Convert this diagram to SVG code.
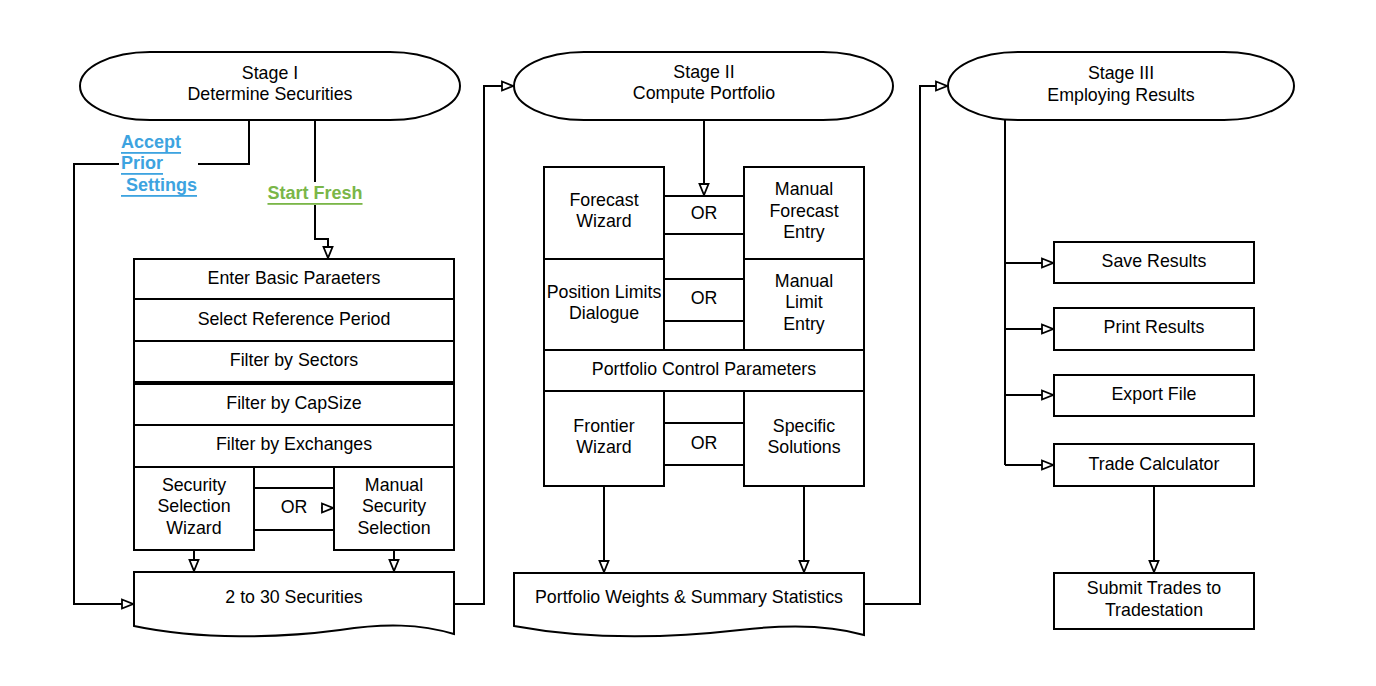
<svg xmlns="http://www.w3.org/2000/svg" width="1376" height="686" viewBox="0 0 1376 686">
<defs>
<marker id="arr" markerWidth="14" markerHeight="12" refX="12" refY="6" orient="auto" markerUnits="userSpaceOnUse">
<path d="M1,1.5 L12,6 L1,10.5 Z" fill="#fff" stroke="#000" stroke-width="1.8"/>
</marker>
</defs>
<style>
.b{fill:#fff;stroke:#000;stroke-width:2}
.l{fill:none;stroke:#000;stroke-width:2}
text{font-family:"Liberation Sans",Arial,sans-serif;font-size:17.8px;fill:#000;text-anchor:middle;dominant-baseline:central}
.blue{fill:#3DA3E0;font-weight:bold;text-decoration:underline;text-anchor:start;font-size:18px}
.green{fill:#7AB648;font-weight:bold;text-decoration:underline;font-size:18px}
</style>
<rect width="1376" height="686" fill="#fff"/>

<g id="connectors">
<path class="l" d="M249,120 V164 H74 V604 H133" marker-end="url(#arr)"/>
<path class="l" d="M315,120 V239 H328 V258" marker-end="url(#arr)"/>
<path class="l" d="M321,508 H333" marker-end="url(#arr)"/>
<path class="l" d="M194,550 V571" marker-end="url(#arr)"/>
<path class="l" d="M394,550 V571" marker-end="url(#arr)"/>
<path class="l" d="M454,604 H484 V86 H513" marker-end="url(#arr)"/>
<path class="l" d="M704,120 V195" marker-end="url(#arr)"/>
<path class="l" d="M604,486 V572" marker-end="url(#arr)"/>
<path class="l" d="M804,486 V572" marker-end="url(#arr)"/>
<path class="l" d="M864,604 H920 V86 H947" marker-end="url(#arr)"/>
<path class="l" d="M1005,120 V465"/>
<path class="l" d="M1005,263 H1053" marker-end="url(#arr)"/>
<path class="l" d="M1005,329 H1053" marker-end="url(#arr)"/>
<path class="l" d="M1005,395 H1053" marker-end="url(#arr)"/>
<path class="l" d="M1005,465 H1053" marker-end="url(#arr)"/>
<path class="l" d="M1154,486 V572" marker-end="url(#arr)"/>
<g id="label-accept">
<rect x="119" y="131" width="79" height="64" fill="#fff"/>
<text class="blue" x="121" y="142">Accept</text>
<text class="blue" x="121" y="163">Prior</text>
<text class="blue" x="121" y="185" xml:space="preserve"> Settings</text>
</g>
<g id="label-fresh">
<rect x="266" y="182" width="99" height="23" fill="#fff"/>
<text class="green" x="315" y="193">Start Fresh</text>
</g>
</g>

<g id="stage1">
<rect class="b" x="80" y="52" width="380" height="68" rx="70" ry="34"/>
<text x="270" y="73">Stage I</text>
<text x="270" y="94">Determine Securities</text>
</g>
<g id="stage2">
<rect class="b" x="514" y="52" width="379" height="68" rx="70" ry="34"/>
<text x="704" y="72">Stage II</text>
<text x="704" y="93">Compute Portfolio</text>
</g>
<g id="stage3">
<rect class="b" x="948" y="52" width="346" height="68" rx="70" ry="34"/>
<text x="1121" y="73">Stage III</text>
<text x="1121" y="95">Employing Results</text>
</g>

<g id="enter-basic"><rect class="b" x="134" y="259" width="320" height="40"/><text x="294" y="278">Enter Basic Paraeters</text></g>
<g id="select-ref"><rect class="b" x="134" y="299" width="320" height="42"/><text x="294" y="319">Select Reference Period</text></g>
<g id="filter-sectors"><rect class="b" x="134" y="341" width="320" height="41"/><text x="294" y="360">Filter by Sectors</text></g>
<g id="filter-cap"><rect class="b" x="134" y="384" width="320" height="41"/><text x="294" y="403">Filter by CapSize</text></g>
<g id="filter-exch"><rect class="b" x="134" y="425" width="320" height="42"/><text x="294" y="444">Filter by Exchanges</text></g>
<g id="sec-wizard"><rect class="b" x="134" y="467" width="120" height="83"/><text x="194" y="485">Security</text><text x="194" y="506">Selection</text><text x="194" y="528">Wizard</text></g>
<g id="or1"><path class="l" d="M254,488 H334 M254,530 H334"/><text x="294" y="507">OR</text></g>
<g id="manual-sec"><rect class="b" x="334" y="467" width="120" height="83"/><text x="394" y="485">Manual</text><text x="394" y="506">Security</text><text x="394" y="528">Selection</text></g>
<g id="two-to-thirty"><path class="b" d="M134,572 H454 V634 C420,624 385,623 340,630 C280,638 200,640 134,626 Z"/><text x="294" y="597">2 to 30 Securities</text></g>

<g id="forecast-wizard"><rect class="b" x="544" y="167" width="120" height="92"/><text x="604" y="200">Forecast</text><text x="604" y="221">Wizard</text></g>
<g id="or2"><path class="l" d="M664,196 H744 M664,234 H744"/><text x="704" y="213">OR</text></g>
<g id="manual-forecast"><rect class="b" x="744" y="167" width="120" height="92"/><text x="804" y="189">Manual</text><text x="804" y="211">Forecast</text><text x="804" y="232">Entry</text></g>
<g id="position-limits"><rect class="b" x="544" y="259" width="120" height="91"/><text x="604" y="292">Position Limits</text><text x="604" y="313">Dialogue</text></g>
<g id="or3"><path class="l" d="M664,279 H744 M664,321 H744"/><text x="704" y="298">OR</text></g>
<g id="manual-limit"><rect class="b" x="744" y="259" width="120" height="91"/><text x="804" y="281">Manual</text><text x="804" y="302">Limit</text><text x="804" y="324">Entry</text></g>
<g id="portfolio-control"><rect class="b" x="544" y="350" width="320" height="41"/><text x="704" y="369">Portfolio Control Parameters</text></g>
<g id="frontier"><rect class="b" x="544" y="391" width="120" height="95"/><text x="604" y="426">Frontier</text><text x="604" y="447">Wizard</text></g>
<g id="or4"><path class="l" d="M664,423 H744 M664,465 H744"/><text x="704" y="443">OR</text></g>
<g id="specific"><rect class="b" x="744" y="391" width="120" height="95"/><text x="804" y="426">Specific</text><text x="804" y="447">Solutions</text></g>
<g id="portfolio-weights"><path class="b" d="M514,573 H864 V635 C830,625 790,624 740,630 C670,638 590,640 514,626 Z"/><text x="689" y="597">Portfolio Weights &amp; Summary Statistics</text></g>

<g id="save"><rect class="b" x="1054" y="242" width="200" height="41"/><text x="1154" y="261">Save Results</text></g>
<g id="print"><rect class="b" x="1054" y="308" width="200" height="42"/><text x="1154" y="327">Print Results</text></g>
<g id="export"><rect class="b" x="1054" y="375" width="200" height="41"/><text x="1154" y="394">Export File</text></g>
<g id="trade-calc"><rect class="b" x="1054" y="444" width="200" height="42"/><text x="1154" y="464">Trade Calculator</text></g>
<g id="submit"><rect class="b" x="1054" y="573" width="200" height="56"/><text x="1154" y="588">Submit Trades to</text><text x="1154" y="610">Tradestation</text></g>
</svg>
